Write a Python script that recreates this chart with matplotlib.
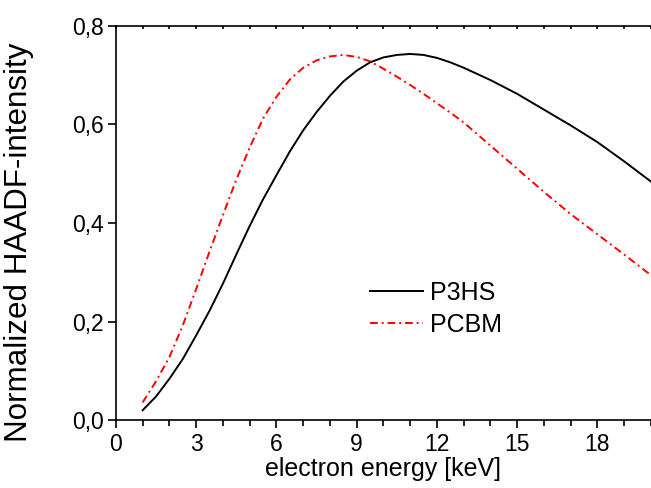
import matplotlib
matplotlib.use("Agg")
import matplotlib.pyplot as plt
from matplotlib.ticker import MultipleLocator, FuncFormatter

plt.rcParams["font.family"] = ["Liberation Sans", "DejaVu Sans"]

# Energía del electrón [keV]
energia = [1, 1.5, 2, 2.5, 3, 3.5, 4, 4.5, 5, 5.5, 6, 6.5, 7, 7.5, 8, 8.5,
           9, 9.5, 10, 10.5, 11, 11.5, 12, 12.5, 13, 14, 15, 16, 17, 18, 19, 20]

# Intensidad HAADF normalizada
p3hs = [0.020, 0.048, 0.084, 0.124, 0.172, 0.222, 0.277, 0.336, 0.394, 0.448,
        0.497, 0.545, 0.588, 0.625, 0.658, 0.687, 0.709, 0.726, 0.736, 0.741,
        0.743, 0.741, 0.735, 0.726, 0.715, 0.690, 0.662, 0.630, 0.598, 0.564,
        0.525, 0.484]
pcbm = [0.036, 0.079, 0.128, 0.192, 0.266, 0.342, 0.416, 0.488, 0.553, 0.612,
        0.656, 0.691, 0.715, 0.730, 0.738, 0.741, 0.737, 0.728, 0.713, 0.697,
        0.680, 0.662, 0.643, 0.624, 0.604, 0.557, 0.510, 0.463, 0.418, 0.377,
        0.336, 0.294]

fig = plt.figure(figsize=(6.51, 4.88), dpi=100)
ax = fig.add_axes([0.178, 0.139, 0.822, 0.808])

ax.plot(energia, p3hs, color="black", lw=1.4, label="P3HS")
ax.plot(energia, pcbm, color="red", lw=1.4, dashes=[4, 2, 1, 2], label="PCBM")

ax.set_xlim(0, 20)
ax.set_ylim(0, 0.8)
ax.xaxis.set_major_locator(MultipleLocator(3))
ax.xaxis.set_minor_locator(MultipleLocator(1))
ax.yaxis.set_major_locator(MultipleLocator(0.2))

coma = FuncFormatter(lambda v, pos: f"{v:.1f}".replace(".", ","))
ax.yaxis.set_major_formatter(coma)

ax.spines["right"].set_visible(False)
for s in ["left", "bottom", "top"]:
    ax.spines[s].set_linewidth(1.2)

ax.tick_params(axis="both", which="major", direction="out", length=6,
               width=1.2, labelsize=16.5, pad=3)
ax.tick_params(axis="x", which="minor", direction="out", length=4, width=1.2)
ax.tick_params(axis="x", which="both", top=True, labeltop=False)
for t in ax.xaxis.get_major_ticks() + ax.xaxis.get_minor_ticks():
    t.tick2line.set_markersize(2)
    t.tick2line.set_marker(3)

ax.set_xlabel("electron energy [keV]", fontsize=18, labelpad=1)
ax.set_ylabel("Normalized HAADF-intensity", fontsize=22.6)
ax.yaxis.set_label_coords(-0.153, 0.45)

ax.legend(loc="center left", bbox_to_anchor=(0.475, 0.282), frameon=False,
          fontsize=18, handlelength=2.1, handletextpad=0.3, borderpad=0,
          borderaxespad=0, labelspacing=0.3)

plt.savefig("out.png", dpi=100)
